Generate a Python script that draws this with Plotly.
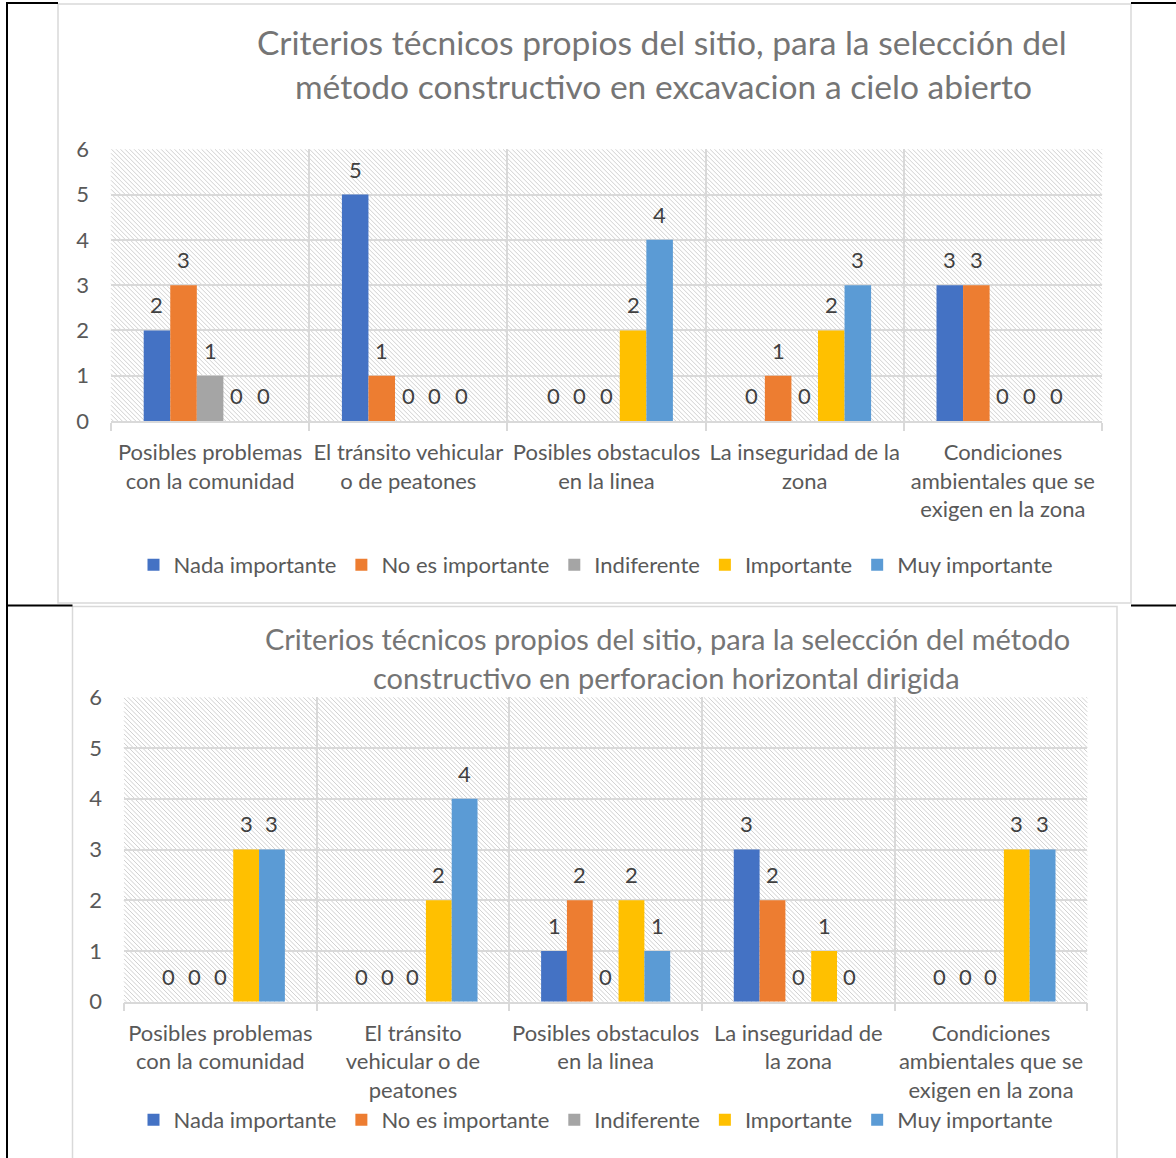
import plotly.graph_objects as go

W, H = 1176, 1158

# ---------------------------------------------------------------- data
series_names = ["Nada importante", "No es importante", "Indiferente",
                "Importante", "Muy importante"]
series_colors = ["#4472C4", "#ED7D31", "#A5A5A5", "#FFC000", "#5B9BD5"]

# chart 1: excavación a cielo abierto
title_exc = ["Criterios técnicos propios del sitio, para la selección del",
             "método constructivo en excavacion a cielo abierto"]
labels_exc = ["Posibles problemas<br>con la comunidad",
              "El tránsito vehicular<br>o de peatones",
              "Posibles obstaculos<br>en la linea",
              "La inseguridad de la<br>zona",
              "Condiciones<br>ambientales que se<br>exigen en la zona"]
nada_exc = [2, 5, 0, 0, 3]
no_es_exc = [3, 1, 0, 1, 3]
indif_exc = [1, 0, 0, 0, 0]
importante_exc = [0, 0, 2, 2, 0]
muy_exc = [0, 0, 4, 3, 0]

# chart 2: perforación horizontal dirigida
title_phd = ["Criterios técnicos propios del sitio, para la selección del método",
             "constructivo en perforacion horizontal dirigida"]
labels_phd = ["Posibles problemas<br>con la comunidad",
              "El tránsito<br>vehicular o de<br>peatones",
              "Posibles obstaculos<br>en la linea",
              "La inseguridad de<br>la zona",
              "Condiciones<br>ambientales que se<br>exigen en la zona"]
nada_phd = [0, 0, 1, 3, 0]
no_es_phd = [0, 0, 2, 2, 0]
indif_phd = [0, 0, 0, 0, 0]
importante_phd = [3, 2, 2, 1, 3]
muy_phd = [3, 4, 1, 0, 3]

y_ticks = [0, 1, 2, 3, 4, 5, 6]

# ---------------------------------------------------------------- layout helpers
FONT = "Lato"
TXT = "#595959"
GRID = "#D9D9D9"
BARGAP = 0.33
FS = 22


def fx(px):
    return px / W


def fy(py):
    return 1 - py / H


# plot areas in pixels: left, right, top, bottom
BOX1 = (111, 1102, 149.3, 421)
BOX2 = (124, 1087.3, 697.3, 1001.7)


def hatch_path(l, r, t, b, step):
    """Diagonal (top-left to bottom-right) hatching clipped to a pixel box."""
    segs = []
    c = l - b + step / 2
    while c < r - t:
        x0 = max(l, t + c)
        x1 = min(r, b + c)
        if x1 > x0:
            segs.append(f"M{fx(x0):.5f},{fy(x0 - c):.5f}L{fx(x1):.5f},{fy(x1 - c):.5f}")
        c += step
    return "".join(segs)


fig = go.Figure()

charts = [
    dict(labels=labels_exc, values=[nada_exc, no_es_exc, indif_exc, importante_exc, muy_exc],
         xa="x", ya="y", legend="legend", box=BOX1),
    dict(labels=labels_phd, values=[nada_phd, no_es_phd, indif_phd, importante_phd, muy_phd],
         xa="x2", ya="y2", legend="legend2", box=BOX2),
]

annotations = []
for ch in charts:
    l, r, t, b = ch["box"]
    bar_px = (r - l) / len(ch["labels"]) * (1 - BARGAP) / len(series_names)
    for i, (name, color, vals) in enumerate(zip(series_names, series_colors, ch["values"])):
        fig.add_trace(go.Bar(
            x=ch["labels"], y=vals, name=name, marker=dict(color=color, line=dict(width=0)),
            xaxis=ch["xa"], yaxis=ch["ya"], legend=ch["legend"], hoverinfo="skip",
        ))
        for lab, v in zip(ch["labels"], vals):
            annotations.append(dict(
                x=lab, y=v, xref=ch["xa"], yref=ch["ya"], text=str(v), showarrow=False,
                xshift=(i - 2) * bar_px, yshift=25.5, yanchor="middle",
                font=dict(family=FONT, size=FS, color="#404040"),
            ))

# titles
for (line, cx, cy, size) in [
    (title_exc[0], 662, 42, 33.6), (title_exc[1], 663, 86, 33.6),
    (title_phd[0], 667, 638, 29), (title_phd[1], 666, 677, 29),
]:
    annotations.append(dict(x=fx(cx), y=fy(cy), xref="paper", yref="paper", text=line,
                            showarrow=False, xanchor="center", yanchor="middle",
                            font=dict(family=FONT, size=size, color="#757575")))

# frames, hatching and page rules
shapes = [
    dict(type="rect", xref="paper", yref="paper", layer="below",
         x0=fx(58), x1=fx(1131), y0=fy(4), y1=fy(603),
         fillcolor="white", line=dict(color=GRID, width=1.5)),
    dict(type="rect", xref="paper", yref="paper", layer="below",
         x0=fx(72.5), x1=fx(1117), y0=fy(606.5), y1=fy(1170),
         fillcolor="white", line=dict(color=GRID, width=1.5)),
]
for ch in charts:
    l, r, t, b = ch["box"]
    shapes.append(dict(type="path", xref="paper", yref="paper", layer="below",
                       path=hatch_path(l, r, t, b, 4.5),
                       line=dict(color="#D0D0D0", width=1)))
for (x0, y0, x1, y1) in [(7, 3, 58, 3), (1131, 3, 1176, 3),
                         (7, 605.5, 72.5, 605.5), (1131, 605.5, 1176, 605.5),
                         (7, 2, 7, 1160)]:
    shapes.append(dict(type="line", xref="paper", yref="paper", layer="above",
                       x0=fx(x0), y0=fy(y0), x1=fx(x1), y1=fy(y1),
                       line=dict(color="black", width=2)))

xaxis_common = dict(
    type="category", tickson="boundaries", ticks="outside", ticklen=8,
    tickcolor=GRID, tickwidth=1.5, showline=True, linecolor=GRID, linewidth=1.5,
    showgrid=True, gridcolor=GRID, gridwidth=1.5, ticklabelstandoff=11, tickangle=0,
    tickfont=dict(family=FONT, size=FS, color=TXT), fixedrange=True, automargin=False,
)
yaxis_common = dict(
    range=[0, 6], tickvals=y_ticks, showgrid=True, gridcolor=GRID, gridwidth=1.5,
    zeroline=False, showline=False, ticks="", ticklabelstandoff=21,
    tickfont=dict(family=FONT, size=FS, color=TXT), fixedrange=True, automargin=False,
)

legend_common = dict(
    orientation="h", xanchor="center", yanchor="middle", x=fx(596),
    font=dict(family=FONT, size=FS, color=TXT), bgcolor="rgba(0,0,0,0)",
    itemclick=False, itemdoubleclick=False, traceorder="normal",
)

fig.update_layout(
    width=W, height=H, margin=dict(l=0, r=0, t=0, b=0, pad=0, autoexpand=False),
    paper_bgcolor="white", plot_bgcolor="rgba(0,0,0,0)",
    barmode="group", bargap=BARGAP, bargroupgap=0,
    xaxis=dict(domain=[fx(BOX1[0]), fx(BOX1[1])], anchor="y", **xaxis_common),
    yaxis=dict(domain=[fy(BOX1[3]), fy(BOX1[2])], anchor="x", **yaxis_common),
    xaxis2=dict(domain=[fx(BOX2[0]), fx(BOX2[1])], anchor="y2", **xaxis_common),
    yaxis2=dict(domain=[fy(BOX2[3]), fy(BOX2[2])], anchor="x2", **yaxis_common),
    legend=dict(y=fy(565), **legend_common),
    legend2=dict(y=fy(1120), **legend_common),
    annotations=annotations, shapes=shapes,
    showlegend=True,
)

fig.write_html("out.html")
